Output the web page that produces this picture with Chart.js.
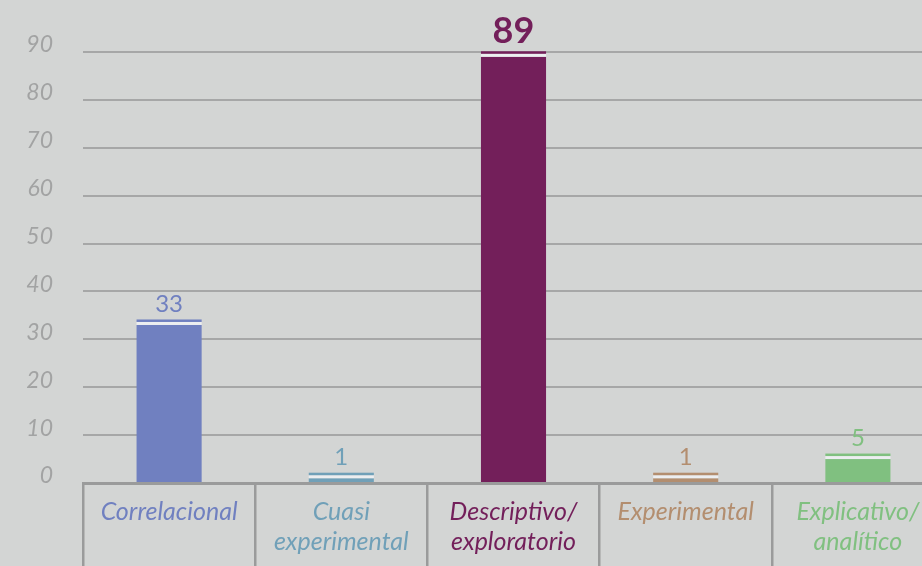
<!DOCTYPE html>
<html>
<head>
<meta charset="utf-8">
<script src="https://cdn.jsdelivr.net/npm/chart.js@4"></script>
<style>
    html, body { margin: 0; padding: 0; background: #d3d5d4; overflow: hidden; }
    #wrap { width: 944px; height: 566px; position: relative; }
</style>
</head>
<body>
<div id="wrap"><canvas id="chart"></canvas></div>
<script>
// Data
const categories = [
    ['Correlacional'],
    ['Cuasi', 'experimental'],
    ['Descriptivo/', 'exploratorio'],
    ['Experimental'],
    ['Explicativo/', 'analítico'],
];
const values = [33, 1, 89, 1, 5];
const barColors = ['#7080c0', '#70a0b8', '#731f5a', '#b38e6f', '#80c080'];
const yTicks = [0, 10, 20, 30, 40, 50, 60, 70, 80, 90];

const FONT = 'Lato, "Open Sans", sans-serif';
const GRID = '#a6a7a7';
const AXIS = '#9a9b9b';

// Bar caps (thin line above each bar with a light gap) and value labels
const capsAndLabels = {
    id: 'capsAndLabels',
    afterDatasetsDraw(chart) {
        const ctx = chart.ctx;
        const meta = chart.getDatasetMeta(0);
        const maxVal = Math.max(...values);
        ctx.save();
        meta.data.forEach((bar, i) => {
            const half = bar.width / 2;
            const top = bar.y;
            ctx.fillStyle = '#eceef0';
            ctx.fillRect(bar.x - half, top - 3, bar.width, 3);
            ctx.fillStyle = barColors[i];
            ctx.fillRect(bar.x - half, top - 5.5, bar.width, 2.5);

            const bold = values[i] === maxVal;
            ctx.font = (bold ? 'bold 36px ' : '24px ') + FONT;
            ctx.textAlign = 'center';
            ctx.textBaseline = 'alphabetic';
            ctx.fillText(String(values[i]), bar.x, top - (bold ? 14 : 13));
        });
        ctx.restore();
    }
};

new Chart(document.getElementById('chart'), {
    type: 'bar',
    data: {
        labels: categories,
        datasets: [{
            data: values,
            backgroundColor: barColors,
            borderWidth: 0,
            barPercentage: 0.378,
            categoryPercentage: 1,
        }]
    },
    options: {
        responsive: true,
        maintainAspectRatio: false,
        animation: false,
        layout: { padding: { top: 52, right: 0, left: 0, bottom: 0 } },
        plugins: { legend: { display: false }, tooltip: { enabled: false } },
        scales: {
            x: {
                offset: true,
                grid: {
                    offset: true,
                    drawOnChartArea: false,
                    drawTicks: true,
                    tickLength: 83,
                    color: AXIS,
                    lineWidth: 2.5,
                },
                border: { display: true, color: AXIS, width: 3 },
                ticks: {
                    padding: -69,
                    maxRotation: 0,
                    autoSkip: false,
                    color: (c) => barColors[c.index],
                    font: { family: FONT, size: 25, style: 'italic', lineHeight: 1.2 },
                },
                afterFit(scale) { scale.height = 83; },
            },
            y: {
                min: 0,
                max: 90,
                afterBuildTicks(scale) { scale.ticks = yTicks.map(v => ({ value: v })); },
                grid: { color: GRID, lineWidth: 2, drawTicks: false },
                border: { display: false },
                ticks: {
                    padding: 30,
                    labelOffset: -7,
                    color: '#a2a3a3',
                    font: { family: FONT, size: 23, style: 'italic' },
                },
                afterFit(scale) { scale.width = 83; },
            }
        }
    },
    plugins: [capsAndLabels]
});
</script>
</body>
</html>
